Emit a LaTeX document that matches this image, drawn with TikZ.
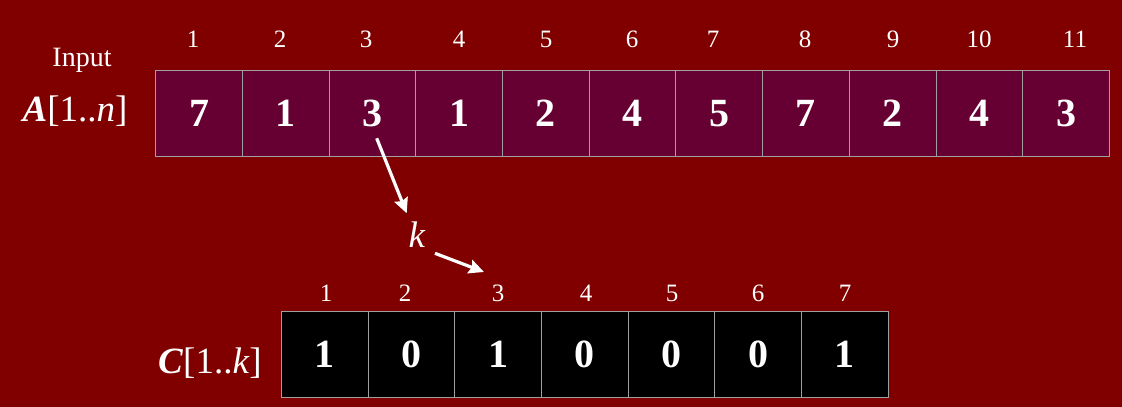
\documentclass[tikz,border=0pt]{standalone}
\usepackage{fontspec}
\setmainfont{Liberation Serif}
\usetikzlibrary{arrows.meta}
\definecolor{bgred}{HTML}{800000}
\definecolor{cellA}{HTML}{660033}
\definecolor{cellgray}{HTML}{A0A0A0}
\tikzset{
  cellAbox/.style={draw=cellgray, line width=1pt, fill=cellA, minimum width=86.7pt, minimum height=86pt, inner sep=0pt, text=white, font=\fontsize{40}{40}\selectfont\bfseries},
  cellCbox/.style={draw=cellgray, line width=1pt, fill=black, minimum width=86.7pt, minimum height=86.3pt, inner sep=0pt, text=white, font=\fontsize{40}{40}\selectfont\bfseries},
  idx/.style={text=white, inner sep=0pt, font=\fontsize{25}{25}\selectfont},
  lbl/.style={text=white, inner sep=0pt, anchor=base, font=\fontsize{37}{37}\selectfont},
  arr/.style={draw=white, line width=3.2pt, -{Stealth[length=15pt,width=14pt,inset=2pt]}}
}
\begin{document}
\begin{tikzpicture}[x=1pt,y=-1pt]
\fill[bgred] (0,0) rectangle (1122,407);
\useasboundingbox (0,0) rectangle (1122,407);
% top array
\foreach \v [count=\i] in {7,1,3,1,2,4,5,7,2,4,3} {
  \node[cellAbox] (a\i) at ({155.7+86.7*(\i-0.5)},113.7) {\v};
}
\foreach \t/\x [count=\i] in {1/193,2/280,3/366,4/459,5/546,6/632,7/713,8/805,9/893,10/979,11/1075} {
  \node[idx] (ai\i) at (\x,39) {\t};
}
% bottom array
\foreach \v [count=\i] in {1,0,1,0,0,0,1} {
  \node[cellCbox] (c\i) at ({281.3+86.7*(\i-0.5)},354.2) {\v};
}
\foreach \t/\x [count=\i] in {1/326,2/405,3/498,4/586,5/672,6/758,7/845} {
  \node[idx] (ci\i) at (\x,293) {\t};
}
% labels
\node[text=white, inner sep=0pt, anchor=base, font=\fontsize{28}{28}\selectfont] (inp) at (82,66.7) {Input};
\node[lbl] (alabel) at (75,121.7) {\textbf{\textit{A}}[1..\textit{n}]};
\node[lbl] (clabel) at (210,373.3) {\textbf{\textit{C}}[1..\textit{k}]};
\node[lbl] (k) at (417,247.5) {\textit{k}};
% arrows
\coordinate (s1) at (376.7,138.3);
\coordinate (t1) at (406.7,213.3);
\coordinate (s2) at (435,253.3);
\coordinate (t2) at (484,272);
\draw[arr] (s1) -- (t1);
\draw[arr] (s2) -- (t2);
\end{tikzpicture}
\end{document}
